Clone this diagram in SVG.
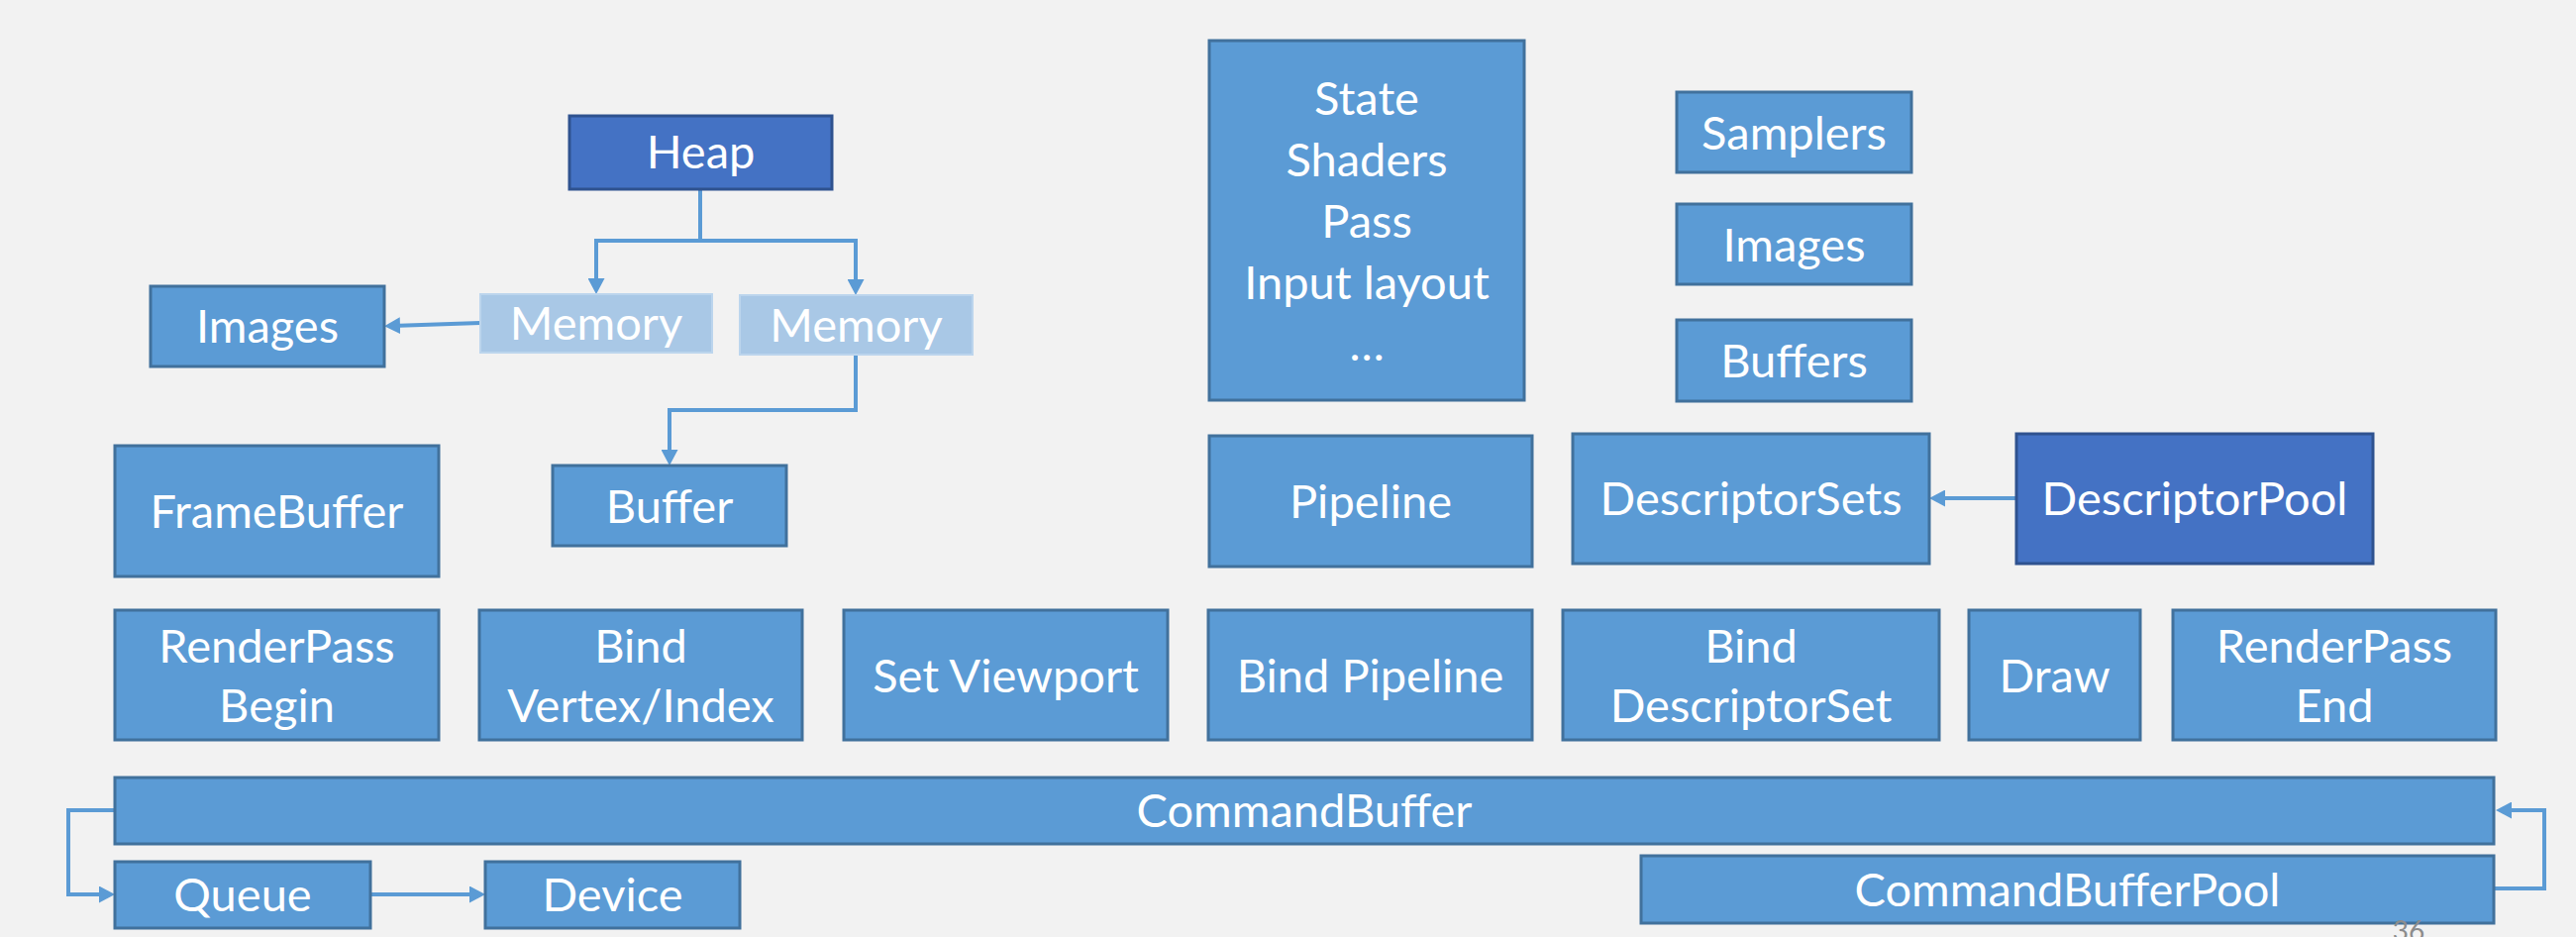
<svg xmlns="http://www.w3.org/2000/svg" width="2601" height="946" viewBox="0 0 2601 946">
  <style>
    .box { fill: #5b9bd5; stroke: #41719c; stroke-width: 3; }
    .dark { fill: #4472c4; stroke: #2f528f; stroke-width: 3; }
    .light { fill: #a9c8e6; stroke: #bcd5ed; stroke-width: 2; }
    .t { font-family: Lato, "Liberation Sans", sans-serif; font-size: 47px; fill: #ffffff; text-anchor: middle; }
    .conn { fill: none; stroke: #5b9bd5; stroke-width: 4; }
    .pg { font-family: Lato, "Liberation Sans", sans-serif; font-size: 28px; fill: #8c8c8c; text-anchor: middle; }
  </style>
  <defs>
    <marker id="arrow" markerUnits="userSpaceOnUse" markerWidth="16" markerHeight="17" refX="8" refY="8.5" orient="auto">
      <path d="M0,0 L16,8.5 L0,17 z" fill="#5b9bd5"/>
    </marker>
  </defs>
  <rect x="0" y="0" width="2601" height="946" fill="#f2f2f2"/>

  <g id="connectors">
    <path class="conn" d="M707,191 V243 H602 V289" marker-end="url(#arrow)"/>
    <path class="conn" d="M707,243 H864 V290" marker-end="url(#arrow)"/>
    <path class="conn" d="M485,326 L396,329" marker-end="url(#arrow)"/>
    <path class="conn" d="M864,358 V414 H676 V462" marker-end="url(#arrow)"/>
    <path class="conn" d="M2036,503 H1956" marker-end="url(#arrow)"/>
    <path class="conn" d="M116,818 H69 V903 H108" marker-end="url(#arrow)"/>
    <path class="conn" d="M374,903 H482" marker-end="url(#arrow)"/>
    <path class="conn" d="M2518,897 H2569 V818 H2528" marker-end="url(#arrow)"/>
  </g>

  <g id="heap"><rect class="dark" x="575" y="117" width="265" height="74"/><text class="t" x="707.5" y="170">Heap</text></g>
  <g id="images-mem"><rect class="box" x="152" y="289" width="236" height="81"/><text class="t" x="270" y="346">Images</text></g>
  <g id="memory1"><rect class="light" x="485" y="297" width="234" height="59"/><text class="t" x="602" y="343">Memory</text></g>
  <g id="memory2"><rect class="light" x="747" y="298" width="235" height="60"/><text class="t" x="864.5" y="345">Memory</text></g>
  <g id="framebuffer"><rect class="box" x="116" y="450" width="327" height="132"/><text class="t" x="279.5" y="533">FrameBuffer</text></g>
  <g id="buffer"><rect class="box" x="558" y="470" width="236" height="81"/><text class="t" x="676" y="528">Buffer</text></g>

  <g id="pipeline-state"><rect class="box" x="1221" y="41" width="318" height="363"/>
    <text class="t" x="1380" y="116">State</text>
    <text class="t" x="1380" y="178">Shaders</text>
    <text class="t" x="1380" y="240">Pass</text>
    <text class="t" x="1380" y="302">Input layout</text>
    <text class="t" x="1380" y="364">…</text>
  </g>
  <g id="samplers"><rect class="box" x="1693" y="93" width="237" height="81"/><text class="t" x="1811.5" y="151">Samplers</text></g>
  <g id="images-desc"><rect class="box" x="1693" y="206" width="237" height="81"/><text class="t" x="1811.5" y="264">Images</text></g>
  <g id="buffers"><rect class="box" x="1693" y="323" width="237" height="82"/><text class="t" x="1811.5" y="381">Buffers</text></g>

  <g id="pipeline"><rect class="box" x="1221" y="440" width="326" height="132"/><text class="t" x="1384" y="523">Pipeline</text></g>
  <g id="descriptorsets"><rect class="box" x="1588" y="438" width="360" height="131"/><text class="t" x="1768" y="520">DescriptorSets</text></g>
  <g id="descriptorpool"><rect class="dark" x="2036" y="438" width="360" height="131"/><text class="t" x="2216" y="520">DescriptorPool</text></g>

  <g id="renderpass-begin"><rect class="box" x="116" y="616" width="327" height="131"/><text class="t" x="279.5" y="669">RenderPass</text><text class="t" x="279.5" y="729">Begin</text></g>
  <g id="bind-vertex"><rect class="box" x="484" y="616" width="326" height="131"/><text class="t" x="647" y="669">Bind</text><text class="t" x="647" y="729">Vertex/Index</text></g>
  <g id="set-viewport"><rect class="box" x="852" y="616" width="327" height="131"/><text class="t" x="1015.5" y="699">Set Viewport</text></g>
  <g id="bind-pipeline"><rect class="box" x="1220" y="616" width="327" height="131"/><text class="t" x="1383.5" y="699">Bind Pipeline</text></g>
  <g id="bind-descriptorset"><rect class="box" x="1578" y="616" width="380" height="131"/><text class="t" x="1768" y="669">Bind</text><text class="t" x="1768" y="729">DescriptorSet</text></g>
  <g id="draw"><rect class="box" x="1988" y="616" width="173" height="131"/><text class="t" x="2074.5" y="699">Draw</text></g>
  <g id="renderpass-end"><rect class="box" x="2194" y="616" width="326" height="131"/><text class="t" x="2357" y="669">RenderPass</text><text class="t" x="2357" y="729">End</text></g>

  <g id="commandbuffer"><rect class="box" x="116" y="785" width="2402" height="67"/><text class="t" x="1317" y="835">CommandBuffer</text></g>
  <g id="queue"><rect class="box" x="116" y="870" width="258" height="67"/><text class="t" x="245" y="920">Queue</text></g>
  <g id="device"><rect class="box" x="490" y="870" width="257" height="67"/><text class="t" x="618.5" y="920">Device</text></g>
  <g id="commandbufferpool"><rect class="box" x="1657" y="864" width="861" height="68"/><text class="t" x="2087.5" y="915">CommandBufferPool</text></g>

  <text class="pg" x="2432" y="950">36</text>
</svg>
